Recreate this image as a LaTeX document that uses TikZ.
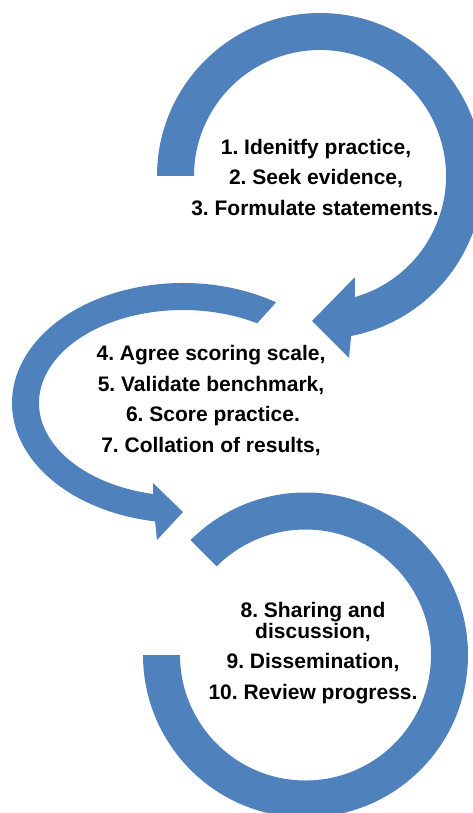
\documentclass[tikz,border=0pt]{standalone}
\usepackage{fontspec}
\setmainfont{Liberation Sans}
\usetikzlibrary{calc}
\definecolor{ringblue}{HTML}{4F81BD}
\tikzset{
  ring/.style={fill=ringblue, draw=none},
  lbl/.style={anchor=base, inner sep=0pt, font=\fontsize{21}{24}\selectfont\bfseries\frenchspacing, text=black}
}
\begin{document}
\begin{tikzpicture}[x=1pt,y=-1pt]
\useasboundingbox (0,0) rectangle (473,813);
% top circular arrow
\coordinate (c1) at (320,176);
\fill[ring] ($(c1)+(180:163)$) arc[start angle=180, end angle=439, radius=163]
  -- (349,358) -- (312,321) -- (355,277)
  -- ($(c1)+(434:126)$) arc[start angle=434, end angle=180, radius=126] -- cycle;
% middle elliptical arrow
\coordinate (c2) at (183,403);
\fill[ring] ($(c2)+(-57:171 and 120)$) arc[start angle=-57, end angle=-260.6, x radius=171, y radius=120]
  -- (157,540) -- (183,512) -- (153,483)
  -- ($(c2)+(-258:144 and 93)$) arc[start angle=-258, end angle=-59, x radius=144, y radius=93] -- cycle;
% bottom ring
\coordinate (c3) at (305.5,655);
\fill[ring] ($(c3)+(-135:162.5)$) arc[start angle=-135, end angle=180, radius=162.5]
  -- ($(c3)+(180:125.5)$) arc[start angle=180, end angle=-135, radius=125.5] -- cycle;
% texts
\node[lbl] (t1) at (316,155) {1. Idenitfy practice,};
\node[lbl] (t2) at (316,184.5) {2. Seek evidence,};
\node[lbl] (t3) at (315,215) {3. Formulate statements.};
\node[lbl] (t4) at (211,360) {4. Agree scoring scale,};
\node[lbl] (t5) at (211,391) {5. Validate benchmark,};
\node[lbl] (t6) at (213,421) {6. Score practice.};
\node[lbl] (t7) at (211,452) {7. Collation of results,};
\node[lbl] (t8) at (313,617) {8. Sharing and};
\node[lbl] (t8b) at (313,638) {discussion,};
\node[lbl] (t9) at (313,668) {9. Dissemination,};
\node[lbl] (t10) at (313,699) {10. Review progress.};
\end{tikzpicture}
\end{document}
